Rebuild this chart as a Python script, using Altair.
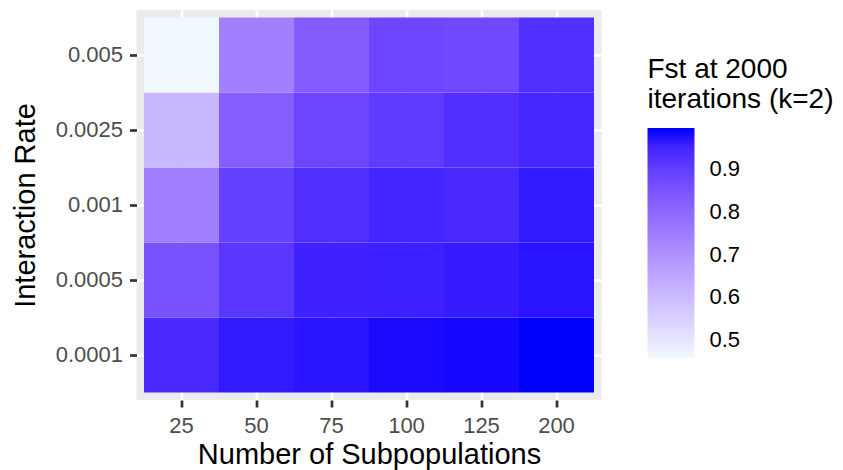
import altair as alt
import pandas as pd

subpops = ["25", "50", "75", "100", "125", "200"]
rates = ["0.0001", "0.0005", "0.001", "0.0025", "0.005"]

fst_r0001 = [0.942, 0.969, 0.977, 0.988, 0.990, 0.996]
fst_r0005 = [0.853, 0.915, 0.956, 0.958, 0.966, 0.977]
fst_r001 = [0.743, 0.894, 0.929, 0.950, 0.942, 0.969]
fst_r0025 = [0.609, 0.824, 0.880, 0.905, 0.929, 0.945]
fst_r005 = [0.458, 0.743, 0.829, 0.878, 0.875, 0.929]

legend_ticks = [0.5, 0.6, 0.7, 0.8, 0.9]

rows = [fst_r0001, fst_r0005, fst_r001, fst_r0025, fst_r005]
records = []
for rate, vals in zip(rates, rows):
    for sp, v in zip(subpops, vals):
        records.append({"subpop": sp, "rate": rate, "fst": v})
df = pd.DataFrame(records)

FONT = "Liberation Sans"

chart = (
    alt.Chart(df)
    .mark_rect(strokeWidth=0)
    .encode(
        x=alt.X(
            "subpop:O",
            sort=subpops,
            title="Number of Subpopulations",
            scale=alt.Scale(paddingInner=0, paddingOuter=0.1),
            axis=alt.Axis(labelAngle=0),
        ),
        y=alt.Y(
            "rate:O",
            sort=list(reversed(rates)),
            title="Interaction Rate",
            scale=alt.Scale(paddingInner=0, paddingOuter=0.1),
        ),
        color=alt.Color(
            "fst:Q",
            scale=alt.Scale(range=["#F0F8FF", "#0000FF"], interpolate="lab", nice=False, zero=False),
            legend=alt.Legend(
                title=["Fst at 2000", "iterations (k=2)"],
                values=legend_ticks,
                format=".1f",
                orient="none",
                legendX=511,
                legendY=46,
                direction="vertical",
                gradientLength=230,
                gradientThickness=47,
                gradientStrokeWidth=0,
                labelFontSize=22,
                labelColor="#000000",
                labelFont=FONT,
                labelOffset=15,
                titleFontSize=28,
                titleFont=FONT,
                titleFontWeight="normal",
                titleColor="#000000",
                titleLineHeight=30,
                titlePadding=14,
                titleLimit=400,
                padding=0,
            ),
        ),
    )
    .properties(
        width=465,
        height=390,
        autosize=alt.AutoSizeParams(type="none"),
        padding={"left": 128.5, "top": 2, "right": 233.5, "bottom": 70},
    )
    .configure_view(fill="#EBEBEB", stroke=None)
    .configure_axis(
        domain=False,
        grid=True,
        zindex=0,
        gridColor="#FFFFFF",
        gridWidth=2.7,
        tickColor="#333333",
        tickWidth=2.7,
        tickSize=7,
        labelFont=FONT,
        labelFontSize=22,
        labelColor="#4D4D4D",
        titleFont=FONT,
        titleFontSize=29,
        titleFontWeight="normal",
        titleColor="#000000",
    )
    .configure_axisX(labelPadding=8, titlePadding=4)
    .configure_axisY(labelPadding=7, titlePadding=15)
)

chart.save("out.html", embed_options={"renderer": "svg", "actions": False})
